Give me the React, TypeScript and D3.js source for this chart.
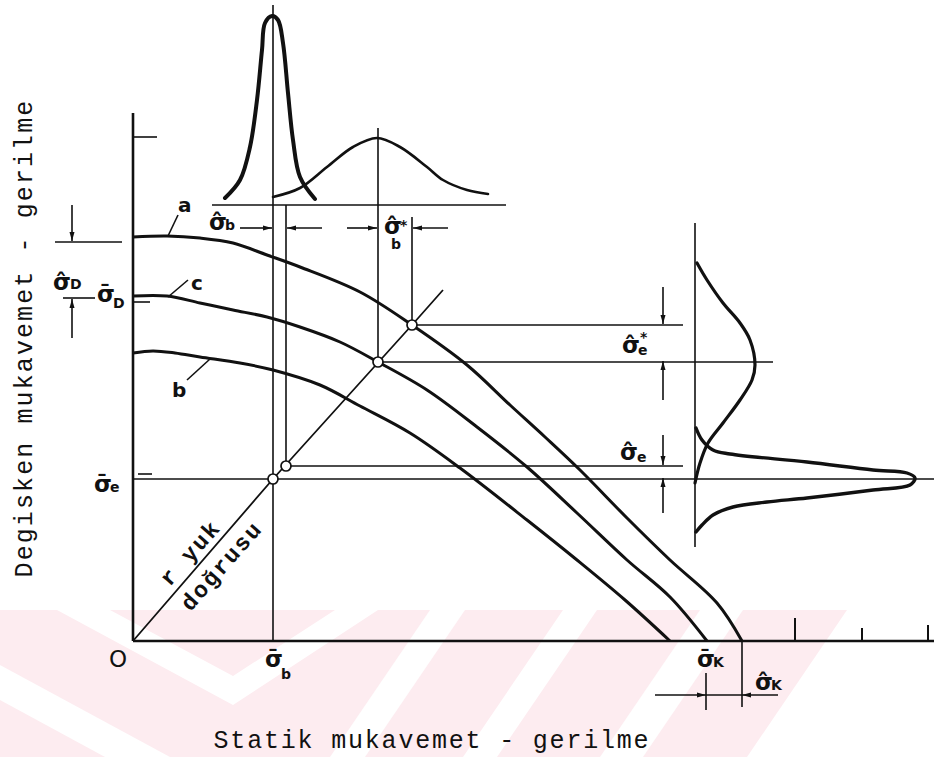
import React from "react";
import * as d3 from "d3";

type Pt = [number, number];

// Stress units: horizontal = static strength / stress, vertical = alternating strength / stress
const X_DOMAIN: Pt = [0, 800];
const Y_DOMAIN: Pt = [0, 640];

// Limit curves a (upper), c (mean) and b (lower)
const curveA: Pt[] = [
  [0, 404], [34, 405], [67, 403], [100, 398], [134, 386], [167, 374], [227, 349],
  [279, 316], [334, 276], [377, 236], [412, 204], [447, 171], [494, 123], [537, 81],
  [584, 38], [609, 0],
];
const curveC: Pt[] = [
  [0, 345], [34, 345], [67, 338], [100, 331], [134, 324], [167, 314], [207, 299],
  [245, 279], [294, 251], [344, 214], [394, 174], [444, 128], [494, 81], [537, 44],
  [574, 0],
];
const curveB: Pt[] = [
  [0, 288], [20, 290], [42, 288], [67, 284], [107, 278], [140, 271], [187, 256],
  [227, 235], [277, 208], [327, 173], [394, 121], [444, 81], [492, 41], [537, 0],
];

// Load line r through the origin
const loadLine: Pt[] = [[0, 0], [140, 162], [279, 316], [310, 351]];
// Operating points on the load line
const operatingPoints: Pt[] = [[140, 162], [153, 175], [245, 279], [279, 316]];

// Static strength scatter (above the diagram, on its own base line)
const staticNarrow: Pt[] = [
  [92, 443], [107, 461], [117, 494], [124, 541], [129, 591], [132, 618], [139, 625],
  [145, 621], [150, 598], [155, 548], [160, 501], [167, 464], [182, 442],
];
const staticWide: Pt[] = [
  [140, 444], [167, 453], [194, 474], [220, 494], [244, 503], [267, 494], [294, 474],
  [310, 461], [334, 451], [355, 447],
];

// Alternating stress scatter (right, on a vertical base line)
const alternWide: Pt[] = [
  [564, 378], [574, 361], [590, 338], [607, 318], [617, 301], [622, 276], [619, 261],
  [607, 241], [590, 218], [575, 198], [567, 178], [562, 158],
];
const alternNarrow: Pt[] = [
  [563, 213], [569, 201], [580, 191], [597, 187], [674, 179], [740, 171], [774, 168],
  [782, 163], [777, 156], [740, 151], [674, 143], [634, 139], [600, 134], [580, 126],
  [569, 116], [563, 109],
];

// Static axis ticks (position, height)
const xTickPos = [662, 729, 795];
const xTickLen = [23, 13, 16];

// Construction lines
const guideLines: [Pt, Pt][] = [
  [[140, 0], [140, 636]],
  [[153, 175], [153, 436]],
  [[245, 279], [245, 513]],
  [[279, 316], [279, 424]],
  [[79, 436], [373, 436]],
  [[0, 162], [801, 162]],
  [[153, 175], [550, 175]],
  [[245, 279], [640, 279]],
  [[279, 316], [550, 316]],
  [[562, 418], [562, 94]],
  [[-78, 399], [-11, 399]],
  [[-70, 343], [-38, 343]],
  [[609, 0], [609, -66]],
  [[573, -32], [573, -69]],
  [[573, -54], [609, -54]],
  [[0, 504], [24, 504]],
  [[0, 339], [17, 339]],
  [[5, 167], [19, 167]],
  [[35, 405], [45, 426]],
  [[35, 344], [55, 361]],
  [[54, 261], [77, 282]],
];

// Dimension arrows (tail -> head)
const dimArrows: [Pt, Pt][] = [
  [[107, 413], [139, 413]],
  [[189, 413], [154, 413]],
  [[214, 413], [244, 413]],
  [[315, 413], [280, 413]],
  [[-61, 436], [-61, 400]],
  [[-61, 303], [-61, 342]],
  [[530, 354], [530, 317]],
  [[530, 241], [530, 280]],
  [[530, 206], [530, 176]],
  [[530, 128], [530, 163]],
  [[522, -54], [573, -54]],
  [[645, -54], [609, -54]],
];

type SigmaLabel = {
  at: Pt; mark: string; sub: string; subDx: number; subDy: number; star?: Pt;
};
const BAR = "\u0304";
const HAT = "\u0302";
const sigmaLabels: SigmaLabel[] = [
  { at: [76, 411], mark: HAT, sub: "b", subDx: 16, subDy: 0 },
  { at: [251, 407], mark: HAT, sub: "b", subDx: 7, subDy: 15, star: [16, -4] },
  { at: [-80, 351], mark: HAT, sub: "D", subDx: 17, subDy: -1 },
  { at: [-36, 339], mark: BAR, sub: "D", subDx: 16, subDy: 6 },
  { at: [-39, 149], mark: BAR, sub: "e", subDx: 16, subDy: 0 },
  { at: [132, -26], mark: BAR, sub: "b", subDx: 16, subDy: 12 },
  { at: [489, 288], mark: HAT, sub: "e", subDx: 16, subDy: 2, star: [18, -11] },
  { at: [487, 181], mark: HAT, sub: "e", subDx: 17, subDy: 2 },
  { at: [564, -26], mark: BAR, sub: "K", subDx: 16, subDy: 0 },
  { at: [622, -49], mark: HAT, sub: "K", subDx: 16, subDy: 0 },
];

const curveLetters: { at: Pt; text: string }[] = [
  { at: [45, 429], text: "a" },
  { at: [58, 351], text: "c" },
  { at: [39, 244], text: "b" },
];

// Faint background watermark (pink band with white gaps), in page pixels
const WM_PINK = "#fdecf0";
const watermarkBand: Pt[] = [[0, 610], [847, 610], [747, 757], [0, 757]];
const watermarkGaps: Pt[][] = [
  [[57, 610], [110, 610], [233, 676], [335, 610], [378, 610], [233, 705]],
  [[430, 610], [465, 610], [365, 757], [330, 757]],
  [[563, 610], [597, 610], [497, 757], [463, 757]],
  [[700, 610], [743, 610], [643, 757], [600, 757]],
  [[0, 665], [170, 757], [105, 757], [0, 700]],
];

const INK = "#111";
const SANS = "'DejaVu Sans', sans-serif";
const MONO = "'Liberation Mono', 'DejaVu Sans Mono', monospace";

export default function App() {
  const xs = d3.scaleLinear().domain(X_DOMAIN).range([133, 933]);
  const ys = d3.scaleLinear().domain(Y_DOMAIN).range([641, 1]);
  const smooth = d3
    .line<Pt>()
    .x((d) => xs(d[0]))
    .y((d) => ys(d[1]))
    .curve(d3.curveCatmullRom.alpha(0.5));
  const straight = d3.line<Pt>().x((d) => xs(d[0])).y((d) => ys(d[1]));
  const poly = (pts: Pt[]) => "M" + pts.map((p) => p.join(",")).join("L") + "Z";

  const [lx, ly] = loadLine[loadLine.length - 1];
  const loadAngle =
    (Math.atan2(ys(ly) - ys(0), xs(lx) - xs(0)) * 180) / Math.PI;

  return (
    <svg
      width={934}
      height={757}
      style={{ position: "absolute", left: 0, top: 0, display: "block", background: "#fff" }}
    >
      <defs>
        <marker
          id="head"
          viewBox="0 0 10 10"
          refX={10}
          refY={5}
          markerWidth={9}
          markerHeight={9}
          markerUnits="userSpaceOnUse"
          orient="auto"
        >
          <path d="M0,2.2 L10,5 L0,7.8 Z" fill={INK} />
        </marker>
      </defs>

      <rect x={0} y={0} width={934} height={757} fill="#fff" />
      <path d={poly(watermarkBand)} fill={WM_PINK} />
      {watermarkGaps.map((g, i) => (
        <path key={i} d={poly(g)} fill="#fff" />
      ))}

      {/* axes */}
      <line x1={xs(0)} y1={ys(0)} x2={xs(0)} y2={ys(528)} stroke={INK} strokeWidth={2.6} />
      <line x1={xs(0)} y1={ys(0)} x2={xs(801)} y2={ys(0)} stroke={INK} strokeWidth={2.4} />
      {xTickPos.map((u, i) => (
        <line key={u} x1={xs(u)} y1={ys(0)} x2={xs(u)} y2={ys(xTickLen[i])} stroke={INK} strokeWidth={2} />
      ))}

      {/* construction lines */}
      {guideLines.map(([a, b], i) => (
        <line key={i} x1={xs(a[0])} y1={ys(a[1])} x2={xs(b[0])} y2={ys(b[1])} stroke={INK} strokeWidth={1.6} />
      ))}
      {dimArrows.map(([a, b], i) => (
        <line
          key={i}
          x1={xs(a[0])}
          y1={ys(a[1])}
          x2={xs(b[0])}
          y2={ys(b[1])}
          stroke={INK}
          strokeWidth={1.6}
          markerEnd="url(#head)"
        />
      ))}

      {/* load line */}
      <path d={straight(loadLine) ?? ""} fill="none" stroke={INK} strokeWidth={1.8} />

      {/* limit curves */}
      {[curveA, curveC, curveB].map((c, i) => (
        <path key={i} d={smooth(c) ?? ""} fill="none" stroke={INK} strokeWidth={3} strokeLinejoin="round" />
      ))}

      {/* scatter distributions */}
      <path d={smooth(staticNarrow) ?? ""} fill="none" stroke={INK} strokeWidth={4} strokeLinecap="round" />
      <path d={smooth(staticWide) ?? ""} fill="none" stroke={INK} strokeWidth={2.6} strokeLinecap="round" />
      <path d={smooth(alternWide) ?? ""} fill="none" stroke={INK} strokeWidth={3.2} strokeLinecap="round" />
      <path d={smooth(alternNarrow) ?? ""} fill="none" stroke={INK} strokeWidth={3.4} strokeLinecap="round" />

      {/* operating points */}
      {operatingPoints.map(([u, v], i) => (
        <circle key={i} cx={xs(u)} cy={ys(v)} r={5} fill="#fff" stroke={INK} strokeWidth={1.7} />
      ))}

      {/* curve names */}
      {curveLetters.map((l) => (
        <text key={l.text} x={xs(l.at[0])} y={ys(l.at[1])} fontFamily={SANS} fontWeight="bold" fontSize={20} fill={INK}>
          {l.text}
        </text>
      ))}

      {/* stress symbols */}
      {sigmaLabels.map((s, i) => {
        const x = xs(s.at[0]);
        const y = ys(s.at[1]);
        return (
          <text key={i} x={x} y={y} fill={INK} fontFamily={SANS} fontWeight="bold" fontSize={23}>
            {"σ" + s.mark}
            <tspan x={x + s.subDx} y={y + s.subDy} fontSize={14}>
              {s.sub}
            </tspan>
            {s.star && (
              <tspan x={x + s.star[0]} y={y + s.star[1]} fontSize={14}>
                *
              </tspan>
            )}
          </text>
        );
      })}

      <text x={xs(-15)} y={ys(-26)} textAnchor="middle" fontFamily={SANS} fontSize={23} fill={INK}>
        O
      </text>

      {/* load line caption */}
      <g
        transform={`translate(${xs(0)},${ys(0)}) rotate(${loadAngle})`}
        fontFamily={MONO}
        fontWeight="bold"
        fontSize={23}
        fill={INK}
        letterSpacing={2}
      >
        <text x={104} y={-8} textAnchor="middle">
          r yuk
        </text>
        <text x={115} y={24} textAnchor="middle">
          doğrusu
        </text>
      </g>

      {/* axis titles */}
      <text x={432} y={748} textAnchor="middle" fontFamily={MONO} fontSize={25} letterSpacing={1.8} fill={INK}>
        Statik mukavemet - gerilme
      </text>
      <text
        transform="translate(32,338) rotate(-90)"
        textAnchor="middle"
        fontFamily={MONO}
        fontSize={25}
        letterSpacing={2.1}
        fill={INK}
      >
        Degisken mukavemet - gerilme
      </text>
    </svg>
  );
}
